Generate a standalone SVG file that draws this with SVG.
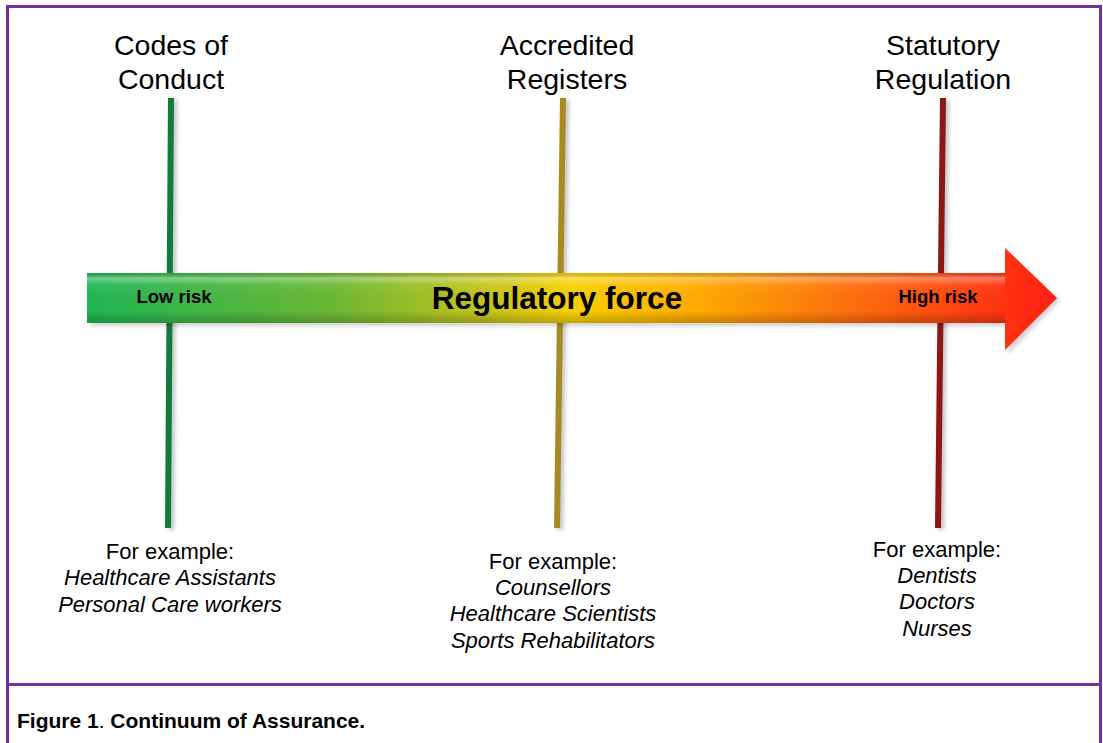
<svg xmlns="http://www.w3.org/2000/svg" width="1103" height="743" viewBox="0 0 1103 743">
<style>
.t{font-family:"Liberation Sans",Arial,sans-serif;fill:#000;text-anchor:middle}
.h{font-size:28.5px}
.s{font-size:22px}
.i{font-style:italic}
.b{font-weight:bold}
</style>
<defs>
<linearGradient id="g" x1="87" y1="0" x2="1057" y2="0" gradientUnits="userSpaceOnUse">
<stop offset="0" stop-color="#1fb655"/>
<stop offset="0.25" stop-color="#6ab834"/>
<stop offset="0.42" stop-color="#c9c51a"/>
<stop offset="0.5" stop-color="#f8d000"/>
<stop offset="0.63" stop-color="#ffaa00"/>
<stop offset="0.8" stop-color="#ff6a0c"/>
<stop offset="1" stop-color="#ff1e14"/>
</linearGradient>
<linearGradient id="sh" x1="0" y1="273" x2="0" y2="323" gradientUnits="userSpaceOnUse">
<stop offset="0" stop-color="#000" stop-opacity="0.1"/>
<stop offset="0.1" stop-color="#fff" stop-opacity="0.35"/>
<stop offset="0.25" stop-color="#fff" stop-opacity="0.05"/>
<stop offset="0.75" stop-color="#000" stop-opacity="0"/>
<stop offset="0.92" stop-color="#000" stop-opacity="0.15"/>
<stop offset="1" stop-color="#000" stop-opacity="0.2"/>
</linearGradient>
<filter id="blur" x="-50%" y="-10%" width="200%" height="120%"><feGaussianBlur stdDeviation="2"/></filter>
</defs>
<rect x="7.5" y="6.5" width="1093" height="760" fill="#fff" stroke="#7030a0" stroke-width="3"/>
<line x1="7" y1="684.5" x2="1101" y2="684.5" stroke="#7030a0" stroke-width="3"/>
<g id="connectors">
<g filter="url(#blur)" stroke="#999" stroke-width="6" opacity="0.6">
<line x1="174" y1="100" x2="171" y2="530"/>
<line x1="566" y1="100" x2="560" y2="530"/>
<line x1="946" y1="100" x2="941" y2="530"/>
</g>
<line x1="171" y1="98" x2="168" y2="528" stroke="#137a3c" stroke-width="6"/>
<line x1="563" y1="98" x2="557" y2="528" stroke="#a98a22" stroke-width="6"/>
<line x1="943" y1="98" x2="938" y2="528" stroke="#8e1616" stroke-width="6"/>
</g>
<g id="arrow">
<path d="M90 276 H1008 V252 L1060 300 L1008 354 V326 H90 Z" fill="#000" opacity="0.18" filter="url(#blur)"/>
<path d="M87 273 H1005 V248 L1057 298 L1005 350 V323 H87 Z" fill="url(#g)"/>
<rect x="87" y="273" width="918" height="50" fill="url(#sh)"/>
<text class="t b" x="174" y="303" font-size="18.5">Low risk</text>
<text class="t b" x="557" y="309" font-size="31.5">Regulatory force</text>
<text class="t b" x="938" y="303" font-size="18.5">High risk</text>
</g>
<g id="node-codes">
<text class="t h" x="171" y="55">Codes of</text>
<text class="t h" x="171" y="89">Conduct</text>
<text class="t s" x="170" y="559">For example:</text>
<text class="t s i" x="170" y="585">Healthcare Assistants</text>
<text class="t s i" x="170" y="612">Personal Care workers</text>
</g>
<g id="node-accredited">
<text class="t h" x="567" y="55">Accredited</text>
<text class="t h" x="567" y="89">Registers</text>
<text class="t s" x="553" y="569">For example:</text>
<text class="t s i" x="553" y="595">Counsellors</text>
<text class="t s i" x="553" y="621">Healthcare Scientists</text>
<text class="t s i" x="553" y="648">Sports Rehabilitators</text>
</g>
<g id="node-statutory">
<text class="t h" x="943" y="55">Statutory</text>
<text class="t h" x="943" y="89">Regulation</text>
<text class="t s" x="937" y="557">For example:</text>
<text class="t s i" x="937" y="583">Dentists</text>
<text class="t s i" x="937" y="609">Doctors</text>
<text class="t s i" x="937" y="636">Nurses</text>
</g>
<text x="17" y="728" font-family="Liberation Sans,Arial,sans-serif" font-size="21" font-weight="bold">Figure 1<tspan font-weight="normal">.</tspan> Continuum of Assurance.</text>
</svg>
